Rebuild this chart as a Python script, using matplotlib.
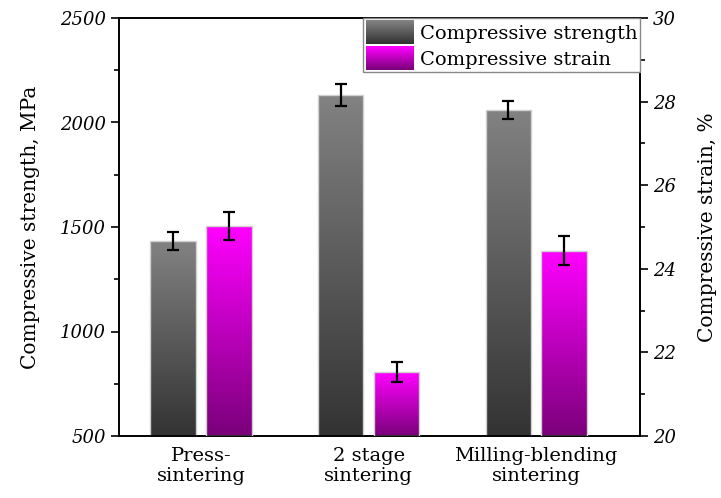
import numpy as np
import matplotlib
matplotlib.use("Agg")
import matplotlib.pyplot as plt
from matplotlib.patches import Rectangle
from matplotlib.legend_handler import HandlerBase
from matplotlib.colors import LinearSegmentedColormap
from matplotlib.ticker import MultipleLocator

categories = ["Press-\nsintering", "2 stage\nsintering", "Milling-blending\nsintering"]
strength = [1433, 2130, 2060]
strength_err = [42, 53, 45]
strain = [25.02, 21.53, 24.43]
strain_err = [0.33, 0.25, 0.35]

plt.rcParams['font.family'] = ['DejaVu Serif']
plt.rcParams['font.size'] = 12

gray_top, gray_bot = "#828282", "#333333"
mag_top, mag_bot = "#ff00ff", "#7a007a"

fig = plt.figure(figsize=(7.21, 4.98), dpi=100)
ax = fig.add_axes([119/721, 1-436/498, (640-119)/721, (436-18)/498])
ax2 = ax.twinx()

x = np.arange(len(categories))
w = 0.27
off = 0.167


def grad_bar(axis, xc, h, base, top_c, bot_c):
    cmap = LinearSegmentedColormap.from_list("g", [bot_c, top_c])
    rect = Rectangle((xc - w/2, base), w, h - base, facecolor="none",
                     edgecolor="#d0d0d0", linewidth=1.0, zorder=3)
    axis.add_patch(rect)
    grad = np.linspace(0, 1, 256).reshape(-1, 1)
    im = axis.imshow(grad, extent=(xc - w/2, xc + w/2, base, h), origin="lower",
                     aspect="auto", cmap=cmap, zorder=2, interpolation="bicubic")
    im.set_clip_path(rect)


for i in range(len(x)):
    grad_bar(ax, x[i] - off, strength[i], 500, gray_top, gray_bot)
    grad_bar(ax2, x[i] + off, strain[i], 20, mag_top, mag_bot)

ax.errorbar(x - off, strength, yerr=strength_err, fmt="none", ecolor="k",
            elinewidth=1.6, capsize=4, capthick=1.6, zorder=5)
ax2.errorbar(x + off, strain, yerr=strain_err, fmt="none", ecolor="k",
             elinewidth=1.6, capsize=4, capthick=1.6, zorder=5)

ax.set_xlim(-0.49, 2.62)
ax.set_ylim(500, 2500)
ax2.set_ylim(20, 30)
ax.set_xticks(x)
ax.set_xticklabels(categories, fontsize=14, linespacing=1.12)
ax.tick_params(axis="x", length=0, pad=8)

for a, maj, mn in ((ax, 500, 250), (ax2, 2, 1)):
    a.yaxis.set_major_locator(MultipleLocator(maj))
    a.yaxis.set_minor_locator(MultipleLocator(mn))
    a.tick_params(axis="y", which="major", direction="out", length=6, width=1.2, labelsize=13)
    a.tick_params(axis="y", which="minor", direction="out", length=3.5, width=1.2)
    for lab in a.get_yticklabels():
        lab.set_fontstyle("italic")

for a in (ax, ax2):
    for s in a.spines.values():
        s.set_linewidth(1.2)
        s.set_color("black")

ax.set_ylabel("Compressive strength, MPa", fontsize=14.5, labelpad=14)
ax2.set_ylabel("Compressive strain, %", fontsize=14.5, labelpad=16)


class GradHandler(HandlerBase):
    def __init__(self, top_c, bot_c):
        super().__init__()
        self.top_c, self.bot_c = top_c, bot_c

    def create_artists(self, legend, orig_handle, xdescent, ydescent, width, height, fontsize, trans):
        cmap = LinearSegmentedColormap.from_list("g", [self.bot_c, self.top_c])
        n = 24
        arts = []
        for k in range(n):
            r = Rectangle((-xdescent, -ydescent + height * k / n), width, height / n + 0.3,
                          facecolor=cmap(k / (n - 1)), edgecolor="none", transform=trans)
            arts.append(r)
        return arts


h1 = Rectangle((0, 0), 1, 1)
h2 = Rectangle((0, 0), 1, 1)
leg = ax2.legend([h1, h2], ["Compressive strength", "Compressive strain"],
                 handler_map={h1: GradHandler(gray_top, gray_bot), h2: GradHandler(mag_top, mag_bot)},
                 loc="upper right", bbox_to_anchor=(1.0, 1.0), fontsize=14,
                 frameon=True, fancybox=False, edgecolor="#888888", framealpha=1,
                 borderpad=0.12, handlelength=2.5, handleheight=1.5, handletextpad=0.3,
                 labelspacing=0.12, borderaxespad=0.0)
leg.get_frame().set_linewidth(1.0)
leg.set_zorder(10)

fig.savefig("out.png", dpi=100)
